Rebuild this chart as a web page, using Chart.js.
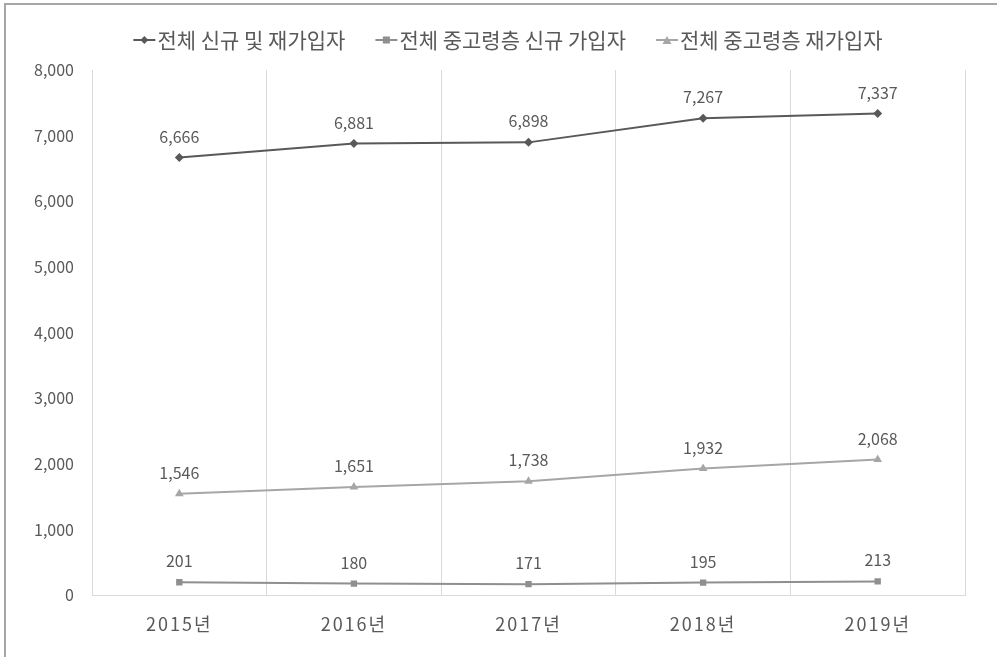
<!DOCTYPE html>
<html lang="ko">
<head>
    <meta charset="UTF-8">
    <title>가입자 추이</title>
    <script src="https://cdn.jsdelivr.net/npm/chart.js@4.4.0/dist/chart.umd.min.js"></script>
    <style>
        * { margin: 0; padding: 0; box-sizing: border-box; }
        body { width: 997px; height: 657px; background: #fff; overflow: hidden; position: relative; }
        #wrap { position: absolute; left: 0; top: 0; width: 997px; height: 657px; }
        #frame {
            position: absolute; left: 4px; top: 3px; right: 0; bottom: 0;
            border-left: 2px solid #a6a6a6; border-top: 2px solid #a6a6a6;
            pointer-events: none;
        }
    </style>
</head>
<body>
    <div id="wrap"><canvas id="chart"></canvas></div>
    <div id="frame"></div>

    <script>
        const years = ['2015년', '2016년', '2017년', '2018년', '2019년'];
        const seriesNames = ['전체 신규 및 재가입자', '전체 중고령층 신규 가입자', '전체 중고령층 재가입자'];
        const totalAll = [6666, 6881, 6898, 7267, 7337];
        const seniorNew = [201, 180, 171, 195, 213];
        const seniorRejoin = [1546, 1651, 1738, 1932, 2068];
        const yTicks = [0, 1000, 2000, 3000, 4000, 5000, 6000, 7000, 8000];

        const FONT = "'Noto Sans CJK KR', 'Noto Sans', sans-serif";
        const TEXT = '#595959';

        const colors = ['#595959', '#8f8f8f', '#a6a6a6'];
        const styles = ['rectRot', 'rect', 'triangle'];
        const radii = [4.5, 4.5, 5];

        function drawMarker(g, style, x, y) {
            g.beginPath();
            if (style === 'rectRot') {
                g.moveTo(x, y - 4); g.lineTo(x + 4, y); g.lineTo(x, y + 4); g.lineTo(x - 4, y);
            } else if (style === 'rect') {
                g.rect(x - 3.5, y - 3.5, 7, 7);
            } else {
                g.moveTo(x, y - 4); g.lineTo(x + 4.5, y + 4); g.lineTo(x - 4.5, y + 4);
            }
            g.closePath(); g.fill();
        }

        // legend: short line with marker, text right after, centred row
        const excelLegend = {
            id: 'excelLegend',
            afterDraw(chart) {
                const ctx = chart.ctx;
                const iconW = 22, gap = 2, spacing = 30, y = 40;
                ctx.save();
                ctx.font = '21px ' + FONT;
                ctx.textBaseline = 'middle';
                ctx.textAlign = 'left';
                const widths = seriesNames.map(t => iconW + gap + ctx.measureText(t).width);
                const total = widths.reduce((a, b) => a + b, 0) + spacing * (widths.length - 1);
                let x = 508 - total / 2;
                seriesNames.forEach((name, i) => {
                    ctx.strokeStyle = colors[i];
                    ctx.fillStyle = colors[i];
                    ctx.lineWidth = 2;
                    ctx.beginPath(); ctx.moveTo(x, y); ctx.lineTo(x + iconW, y); ctx.stroke();
                    drawMarker(ctx, styles[i], x + iconW / 2, y);
                    ctx.fillStyle = TEXT;
                    ctx.fillText(name, x + iconW + gap, y);
                    x += widths[i] + spacing;
                });
                ctx.restore();
            }
        };

        const dataLabels = {
            id: 'dataLabels',
            afterDatasetsDraw(chart) {
                const ctx = chart.ctx;
                ctx.save();
                ctx.font = '16px ' + FONT;
                ctx.fillStyle = TEXT;
                ctx.textAlign = 'center';
                ctx.textBaseline = 'middle';
                chart.data.datasets.forEach((ds, i) => {
                    chart.getDatasetMeta(i).data.forEach((pt, j) => {
                        ctx.fillText(ds.data[j].toLocaleString('en-US'), pt.x, pt.y - 21);
                    });
                });
                ctx.restore();
            }
        };

        // year labels are letter-spaced in the original
        const spacedX = {
            id: 'spacedX',
            afterLayout(chart) {
                const s = chart.scales.x;
                if (s._spaced) return;
                const orig = s.drawLabels.bind(s);
                s.drawLabels = (area) => {
                    chart.ctx.save();
                    chart.ctx.letterSpacing = '2px';
                    orig(area);
                    chart.ctx.restore();
                };
                s._spaced = true;
            }
        };

        const sets = [totalAll, seniorNew, seniorRejoin].map((d, i) => ({
            label: seriesNames[i],
            data: d,
            borderColor: colors[i],
            backgroundColor: colors[i],
            borderWidth: 2,
            pointStyle: styles[i],
            pointRadius: radii[i],
            pointBorderWidth: 0,
            tension: 0
        }));

        new Chart(document.getElementById('chart'), {
            type: 'line',
            data: { labels: years, datasets: sets },
            plugins: [dataLabels, excelLegend, spacedX],
            options: {
                responsive: true,
                maintainAspectRatio: false,
                animation: false,
                layout: { padding: { top: 70, right: 32, bottom: 4, left: 0 } },
                plugins: {
                    legend: { display: false },
                    tooltip: { enabled: false }
                },
                scales: {
                    x: {
                        offset: true,
                        grid: { display: true, offset: true, color: '#d9d9d9', drawTicks: false },
                        border: { display: true, color: '#d9d9d9' },
                        ticks: { color: TEXT, font: { family: FONT, size: 18 }, padding: 18 }
                    },
                    y: {
                        min: 0,
                        max: 8000,
                        afterBuildTicks(axis) { axis.ticks = yTicks.map(v => ({ value: v })); },
                        afterFit(axis) { axis.width = 92; },
                        grid: { display: false, drawTicks: false },
                        border: { display: false },
                        ticks: {
                            color: TEXT,
                            font: { family: FONT, size: 16 },
                            padding: 18,
                            callback: v => v.toLocaleString('en-US')
                        }
                    }
                }
            }
        });
    </script>
</body>
</html>
